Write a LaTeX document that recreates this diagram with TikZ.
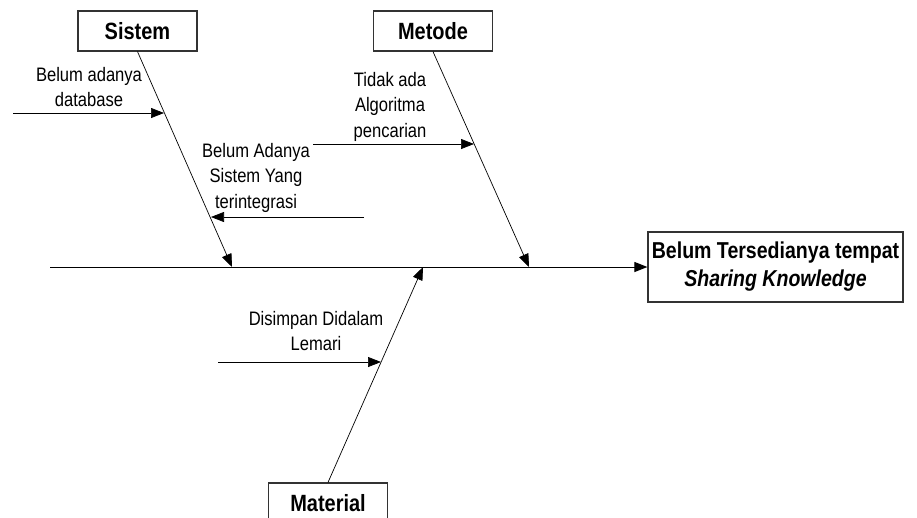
\documentclass[tikz,border=0pt]{standalone}
\usepackage{fontspec}
\setmainfont{Liberation Sans}[FakeStretch=0.85]
\usetikzlibrary{arrows.meta}

\tikzset{
  catbox/.style={draw=black!80, line width=1.2pt, fill=white, inner sep=0pt,
    minimum width=119pt, minimum height=40pt,
    font=\bfseries\fontsize{23.5}{27}\selectfont},
  effectbox/.style={draw=black!80, line width=1.2pt, fill=white, inner sep=0pt,
    minimum width=255pt, minimum height=70pt, align=center,
    font=\bfseries\fontsize{23}{28}\selectfont},
  causetext/.style={inner sep=0pt, align=center,
    font=\fontsize{19.5}{25.5}\selectfont},
  bone/.style={line width=0.7pt, -{Triangle[length=13pt,width=10pt]}},
  spine/.style={line width=1pt, -{Triangle[length=13pt,width=10pt]}},
}

\begin{document}
\begin{tikzpicture}[x=1pt, y=-1pt]
  \clip (0,0) rectangle (917,517);
  \fill[white] (0,0) rectangle (917,517);

  % category and effect boxes
  \node[catbox] (sistem) at (137.5,31) {Sistem};
  \node[catbox] (metode) at (433,31) {Metode};
  \node[catbox] (material) at (328,503) {Material};
  \node[effectbox] (effect) at (775.5,267)
    {Belum Tersedianya tempat\\ \textit{Sharing Knowledge}};

  % main spine
  \coordinate (tail) at (50,267);
  \draw[spine] (tail) -- (effect.west);

  % category bones meeting the spine
  \coordinate (jsistem) at (232,267);
  \coordinate (jmetode) at (529,267);
  \coordinate (jmaterial) at (423,267);
  \draw[bone] (sistem.south) -- (jsistem);
  \draw[bone] (metode.south) -- (jmetode);
  \draw[bone] (material.north) -- (jmaterial);

  % causes (anchored at the baseline of the last line)
  \node[causetext, anchor=base] (c1) at (89,106.5) {Belum adanya\\database};
  \coordinate (c1s) at (13,113);
  \coordinate (c1e) at (164,113);
  \draw[bone] (c1s) -- (c1e);

  \node[causetext, anchor=base] (c2) at (256,208) {Belum Adanya\\Sistem Yang\\terintegrasi};
  \coordinate (c2s) at (364,217);
  \coordinate (c2e) at (211,217);
  \draw[bone] (c2s) -- (c2e);

  \node[causetext, anchor=base] (c3) at (390,137) {Tidak ada\\Algoritma\\pencarian};
  \coordinate (c3s) at (313,144);
  \coordinate (c3e) at (474,144);
  \draw[bone] (c3s) -- (c3e);

  \node[causetext, anchor=base] (c4) at (316,350.5) {Disimpan Didalam\\Lemari};
  \coordinate (c4s) at (218,362);
  \coordinate (c4e) at (381,362);
  \draw[bone] (c4s) -- (c4e);
\end{tikzpicture}
\end{document}
